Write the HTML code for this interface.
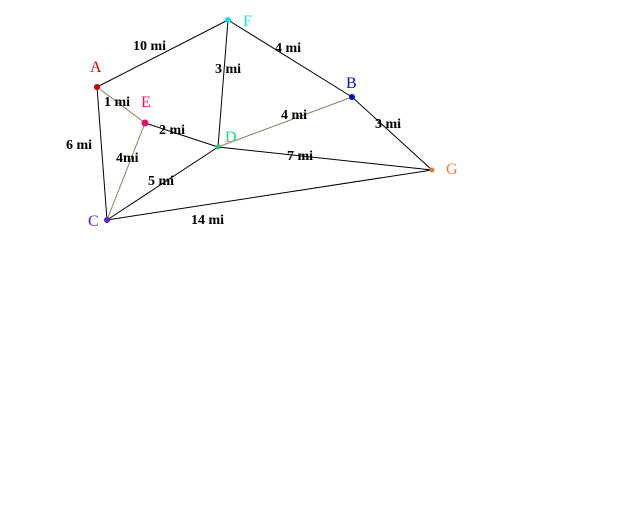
<!DOCTYPE html>
<html><head><style>
body{margin:0;background:#fff;width:640px;height:512px;overflow:hidden}
svg text{font-family:"Liberation Serif",serif;font-size:16px}
svg text.l{font-weight:bold;fill:#000;font-size:14px}
</style></head><body>
<svg width="640" height="512" xmlns="http://www.w3.org/2000/svg">
<g stroke="#000" stroke-width="1" fill="none">
<line x1="97" y1="87" x2="228" y2="20"/>
<line x1="228" y1="20" x2="218" y2="147"/>
<line x1="228" y1="20" x2="352" y2="97"/>
<line x1="352" y1="97" x2="432" y2="170"/>
<line x1="218" y1="147" x2="352" y2="97" stroke="#8a8060"/>
<line x1="218" y1="147" x2="432" y2="170"/>
<line x1="107" y1="220" x2="432" y2="170"/>
<line x1="107" y1="220" x2="218" y2="147"/>
<line x1="107" y1="220" x2="145" y2="123" stroke="#8a8060"/>
<line x1="145" y1="123" x2="218" y2="147"/>
<line x1="97" y1="87" x2="145" y2="123" stroke="#8a8060"/>
<line x1="97" y1="87" x2="107" y2="220"/>
</g>
<circle cx="228" cy="20" r="3" fill="#0ee0e0"/>
<circle cx="97" cy="87" r="3" fill="#c00000"/>
<circle cx="145" cy="123" r="3.5" fill="#e0106a"/>
<circle cx="218" cy="147" r="2.5" fill="#20c070"/>
<circle cx="352" cy="97" r="3" fill="#0010b0"/>
<circle cx="432" cy="170" r="2.5" fill="#e08040"/>
<circle cx="107" cy="220" r="3" fill="#6020d0"/>
<text x="243" y="26" fill="#20e0e0">F</text>
<text x="90" y="72" fill="#d00000">A</text>
<text x="141" y="107" fill="#e0106a">E</text>
<text x="225" y="142" fill="#20e080">D</text>
<text x="346" y="88" fill="#0010c0">B</text>
<text x="446" y="174" fill="#f08040">G</text>
<text x="88" y="226" fill="#6020d0">C</text>
<text x="133" y="50" class="l">10 mi</text>
<text x="215" y="73" class="l">3 mi</text>
<text x="275" y="52" class="l">4 mi</text>
<text x="104" y="106" class="l">1 mi</text>
<text x="66" y="149" class="l">6 mi</text>
<text x="159" y="134" class="l">2 mi</text>
<text x="281" y="119" class="l">4 mi</text>
<text x="375" y="128" class="l">3 mi</text>
<text x="116" y="162" class="l">4mi</text>
<text x="287" y="160" class="l">7 mi</text>
<text x="148" y="185" class="l">5 mi</text>
<text x="191" y="224" class="l">14 mi</text>
</svg>
</body></html>
